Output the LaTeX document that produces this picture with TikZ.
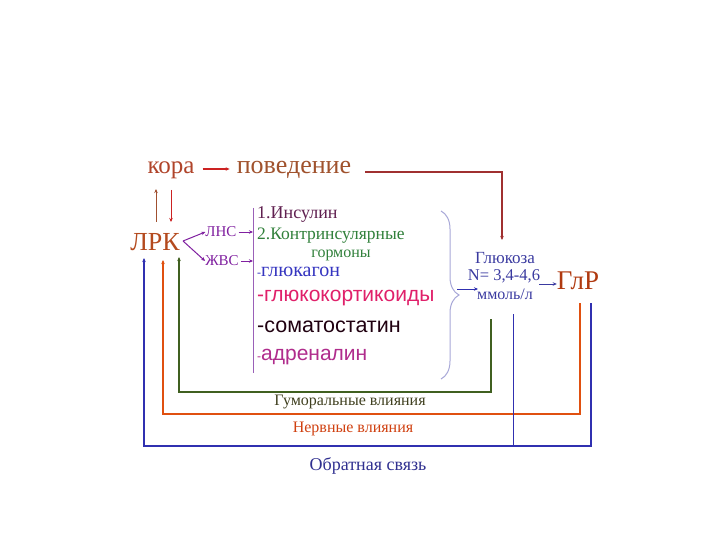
\documentclass[tikz,border=0pt]{standalone}
\usepackage{fontspec}
\setmainfont{Liberation Serif}
\newfontfamily\arialf{Liberation Sans}
\usetikzlibrary{arrows.meta,decorations.pathreplacing}
\definecolor{korac}{HTML}{B0442A}
\definecolor{povc}{HTML}{A0522D}
\definecolor{lrkc}{HTML}{B44A1E}
\definecolor{glrc}{HTML}{B03A10}
\definecolor{redl}{HTML}{CC2222}
\definecolor{darkred}{HTML}{A03030}
\definecolor{brownl}{HTML}{A05030}
\definecolor{purp}{HTML}{8020A0}
\definecolor{purpl}{HTML}{9A60B8}
\definecolor{insc}{HTML}{602050}
\definecolor{kontc}{HTML}{30803A}
\definecolor{glukc}{HTML}{3535C0}
\definecolor{gkc}{HTML}{E0206A}
\definecolor{somc}{HTML}{200010}
\definecolor{adrc}{HTML}{B02C8C}
\definecolor{glucc}{HTML}{3A3AA0}
\definecolor{lav}{HTML}{A8A8D8}
\definecolor{greenl}{HTML}{406020}
\definecolor{orangel}{HTML}{E05010}
\definecolor{bluel}{HTML}{3030B0}
\definecolor{humc}{HTML}{404020}
\definecolor{nervc}{HTML}{D04010}
\definecolor{fbc}{HTML}{303090}
\begin{document}
\begin{tikzpicture}[x=1pt,y=-1pt,
  fs/.style={font=\fontsize{#1}{#1}\selectfont},
  txt/.style={inner sep=0pt},
  tip/.style={-{Stealth[length=4pt,width=3.5pt]}},
  fb/.style={line width=1.3pt}]
\useasboundingbox (0,0) rectangle (720,540);
\fill[white] (0,0) rectangle (720,540);

% top row
\node[txt,fs=25,text=korac] (kora) at (171,170) {кора};
\node[txt,fs=26,text=povc] (pov) at (294,170) {поведение};
\draw[redl,line width=1.4pt,tip] ([xshift=8pt,yshift=1pt]kora.east) -- ([xshift=-7pt,yshift=1pt]pov.west);

% ЛРК
\node[txt,fs=26,text=lrkc] (lrk) at (155,242) {ЛРК};
\coordinate (u1) at (156,222); \coordinate (u2) at (156,189);
\coordinate (d1) at (171,190); \coordinate (d2) at (171,222);
\draw[brownl,line width=1pt,tip] (u1) -- (u2);
\draw[redl,line width=1pt,tip] (d1) -- (d2);

% ЛНС / ЖВС
\node[txt,fs=15,text=purp] (lns) at (221,232) {ЛНС};
\node[txt,fs=15,text=purp] (zhvs) at (222,261) {ЖВС};
\coordinate (lrkr) at (183,241);
\draw[purp,line width=1pt,tip] (lrkr) -- (lns.west);
\draw[purp,line width=1pt,tip] (lrkr) -- (zhvs.west);

% vertical line
\coordinate (vtop) at (253,208);
\coordinate (vbot) at (253,373);
\draw[purpl,line width=0.9pt] (vtop) -- (vbot);
\draw[purp,line width=0.9pt,tip] ([xshift=2pt]lns.east) -- (lns.east -| vtop);
\draw[purp,line width=0.9pt,tip] ([xshift=2pt]zhvs.east) -- (zhvs.east -| vtop);

% hormones
\node[txt,fs=18,text=insc,anchor=west] (ins) at (257,215) {1.Инсулин};
\node[txt,fs=17.5,text=kontc,anchor=west] (kont) at (257,236) {2.Контринсулярные};
\node[txt,fs=16,text=kontc] (gorm) at (341,255) {гормоны};
\node[txt,fs=20,text=glukc,anchor=west] (gluk) at (257,272) {{\fontsize{12}{12}\selectfont -}глюкагон};
\node[txt,fs=21,text=gkc,anchor=west] (gk) at (257,298) {\arialf -глюкокортикоиды};
\node[txt,fs=21.5,text=somc,anchor=west] (som) at (257,327) {\arialf -соматостатин};
\node[txt,fs=21,text=adrc,anchor=west] (adr) at (257,357) {\arialf{\fontsize{12}{12}\selectfont -}адреналин};

% brace
\draw[lav,line width=1pt,decorate,decoration={brace,amplitude=18pt}] (441,211) -- (441,379);

% glucose
\node[txt,fs=17,text=glucc] (glu1) at (505,258) {Глюкоза};
\node[txt,fs=16.5,text=glucc] (glu2) at (504,276) {N= 3,4-4,6};
\node[txt,fs=16,text=glucc] (glu3) at (505,294) {ммоль/л};
\coordinate (bt) at (457,289);
\draw[bluel,line width=1pt,tip] (bt) -- (478,289);

\node[txt,fs=27,text=glrc] (glr) at (578,281) {ГлР};
\draw[glucc,line width=1pt,tip] (539,284) -- (glr.west |- 0,284);

% long arrow from поведение
\coordinate (p1) at (365,172);
\coordinate (gtop) at (502,240);
\draw[darkred,line width=1.1pt,tip] (p1) -| (gtop);

% feedback loops
\coordinate (gs) at (491,319); \coordinate (ge) at (179,257);
\coordinate (os) at (580,303); \coordinate (oe) at (163,260);
\coordinate (bs) at (591,303); \coordinate (be) at (144,258);
\coordinate (bm) at (513,314);
\draw[greenl,fb,tip] (gs) -- (491,392) -| (ge);
\draw[orangel,fb,tip] (os) -- (580,414) -| (oe);
\draw[bluel,fb,tip] (bs) -- (591,446) -| (be);
\draw[bluel,line width=1pt] (bm) -- (513,446);

\node[txt,fs=16,text=humc] (hum) at (350,402) {Гуморальные влияния};
\node[txt,fs=16,text=nervc] (nerv) at (353,429) {Нервные влияния};
\node[txt,fs=18,text=fbc] (fbk) at (368,466) {Обратная связь};
\end{tikzpicture}
\end{document}
